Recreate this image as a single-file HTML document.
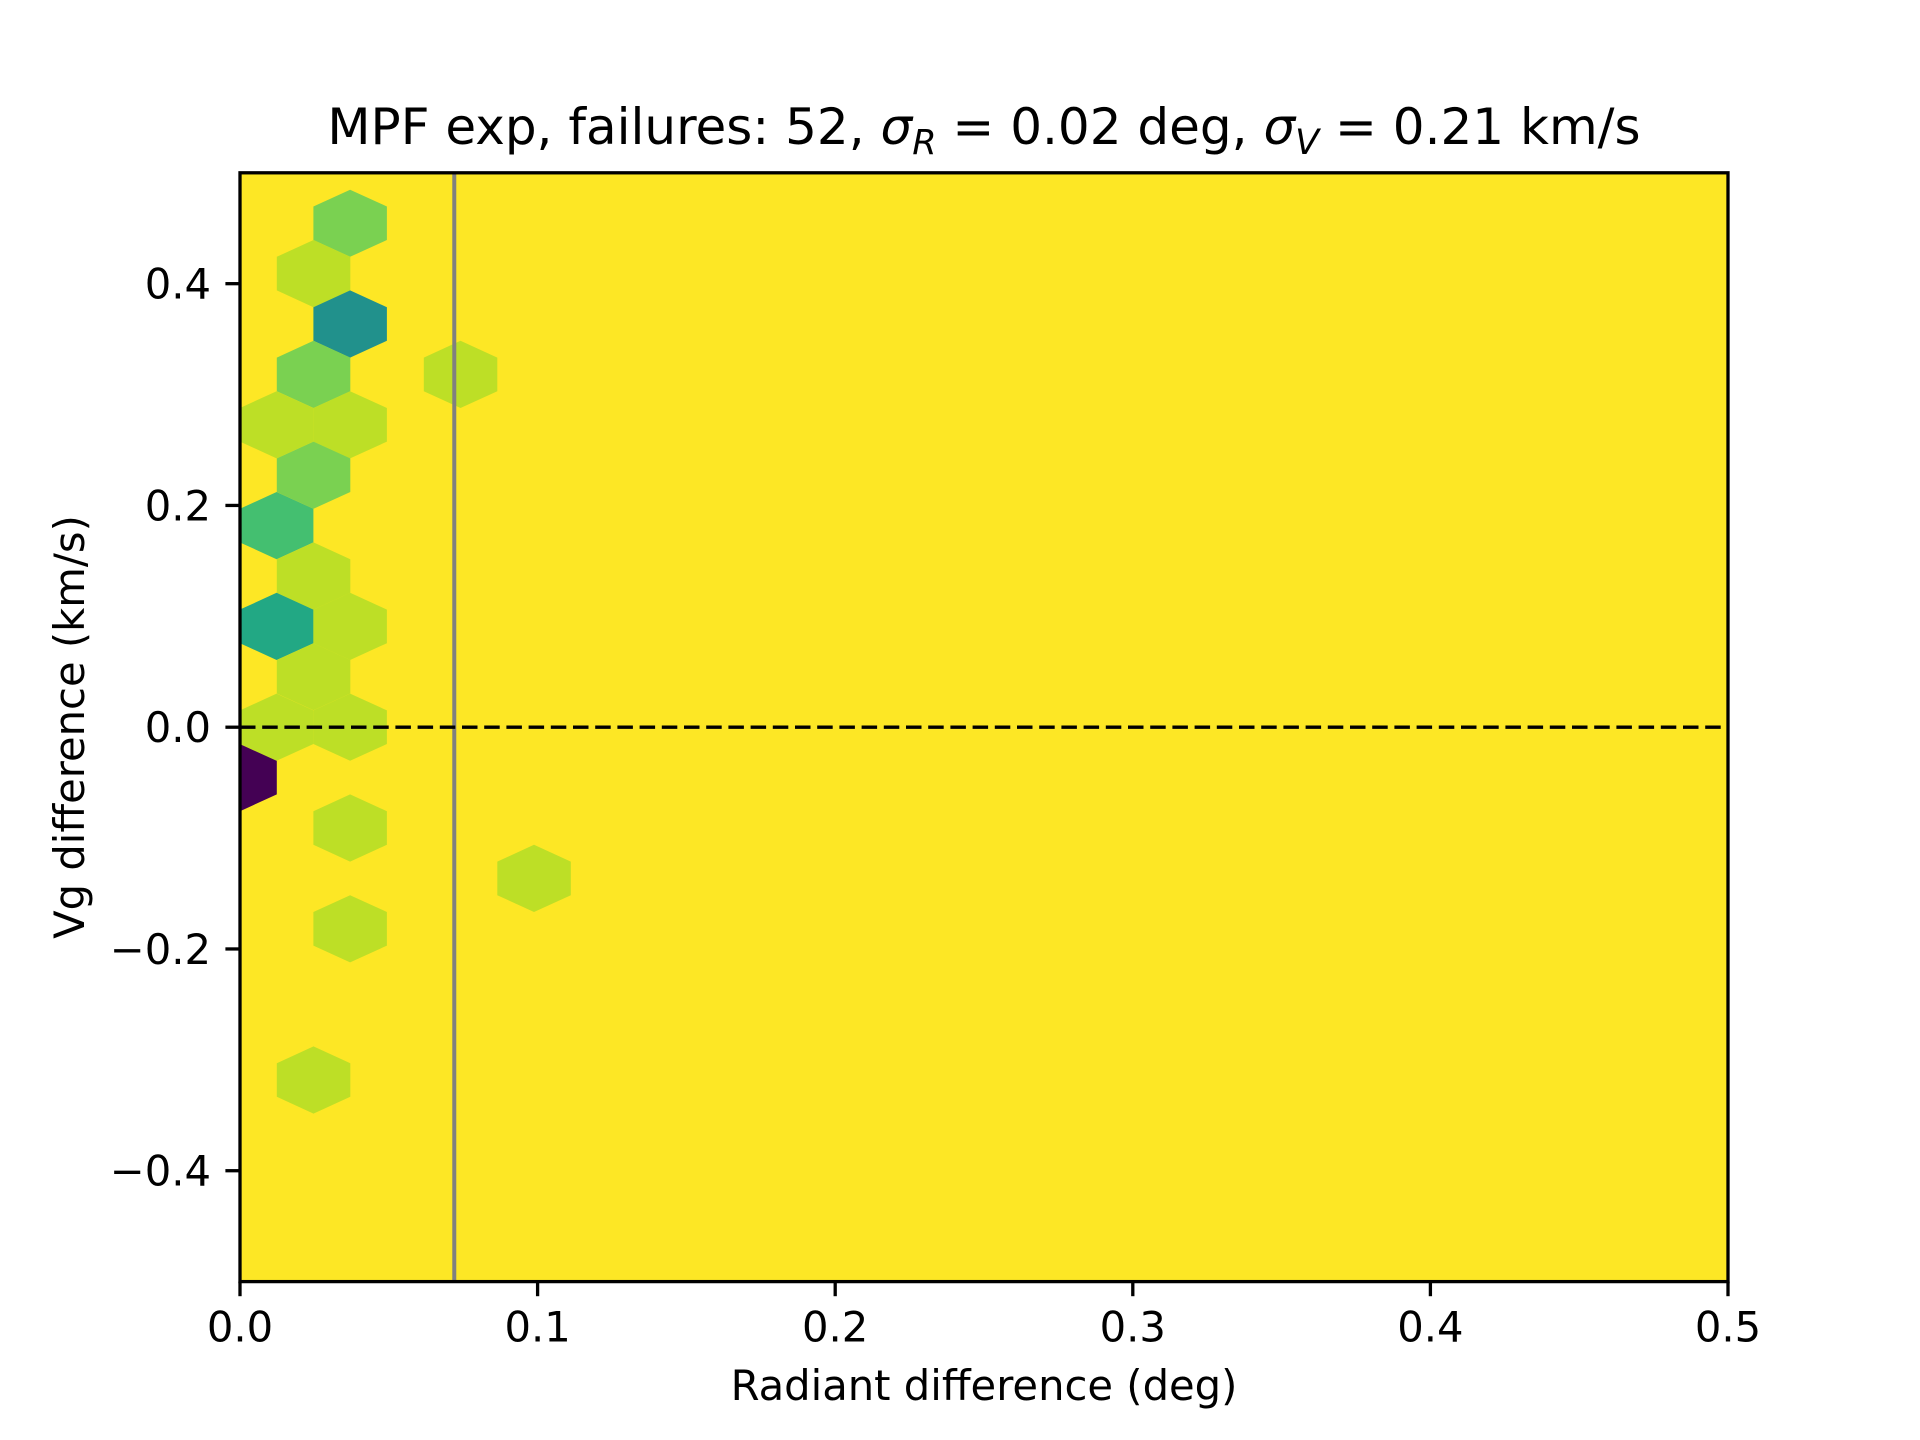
<!DOCTYPE html>
<html><head><meta charset="utf-8"><style>
html,body{margin:0;padding:0;background:#fff}
svg{display:block;font-family:"DejaVu Sans","Liberation Sans",sans-serif}
</style></head><body>
<svg id="chart" width="1920" height="1440" viewBox="0 0 1920 1440" xmlns="http://www.w3.org/2000/svg">
<defs><clipPath id="clip"><rect x="240" y="172.8" width="1488" height="1108.8"/></clipPath></defs>
<rect x="240" y="172.8" width="1488" height="1108.8" fill="#fde725"/>
<g id="hexes" clip-path="url(#clip)"></g>
<g id="lines" clip-path="url(#clip)"></g>
<rect x="240" y="172.8" width="1488" height="1108.8" fill="none" stroke="#000" stroke-width="3.3"/>
<g id="ticks"></g>
<text x="984" y="144" font-size="50" text-anchor="middle">MPF exp, failures: 52, <tspan font-style="italic">σ</tspan><tspan font-style="italic" font-size="35" dy="10">R</tspan><tspan dy="-10"> = 0.02 deg, </tspan><tspan font-style="italic">σ</tspan><tspan font-style="italic" font-size="35" dy="10">V</tspan><tspan dy="-10"> = 0.21 km/s</tspan></text>
<text x="984" y="1400" font-size="41.7" text-anchor="middle">Radiant difference (deg)</text>
<text x="0" y="0" font-size="41.7" text-anchor="middle" transform="translate(84,727) rotate(-90)">Vg difference (km/s)</text>
</svg>
<script>
const cellX = [0.0370,0.0247,0.0370,0.0247,0.0741,0.0123,0.0370,0.0247,0.0123,0.0247,0.0123,0.0370,0.0247,0.0123,0.0370,0.0000,0.0370,0.0988,0.0370,0.0247];
const cellY = [0.4545,0.4091,0.3636,0.3182,0.3182,0.2727,0.2727,0.2273,0.1818,0.1364,0.0909,0.0909,0.0455,0.0000,0.0000,-0.0455,-0.0909,-0.1364,-0.1818,-0.3182];
const cellVal = [0.8,0.9,0.5,0.8,0.9,0.9,0.9,0.8,0.7,0.9,0.6,0.9,0.9,0.9,0.9,0.0,0.9,0.9,0.9,0.9];
const xTicks = [0.0,0.1,0.2,0.3,0.4,0.5];
const xTickLabels = ["0.0","0.1","0.2","0.3","0.4","0.5"];
const yTicks = [-0.4,-0.2,0.0,0.2,0.4];
const yTickLabels = ["\u22120.4","\u22120.2","0.0","0.2","0.4"];
const vLineX = [0.072];
const hLineY = [0.0];
const hexSX = 0.0247, hexSY = 0.0909;

const X0=240,X1=1728,Y0=1281.6,Y1=172.8;
const xs=v=>X0+(v-0)/(0.5)*(X1-X0);
const ys=v=>Y0-(v+0.5)/1.0*(Y0-Y1);
const NS='http://www.w3.org/2000/svg';
const vir=[[0,[68,1,84]],[0.25,[59,82,139]],[0.5,[33,145,140]],[0.6,[34,168,132]],[0.7,[68,191,112]],[0.8,[122,209,81]],[0.9,[189,223,38]],[1,[253,231,37]]];
function cmap(t){for(let i=1;i<vir.length;i++){if(t<=vir[i][0]){const a=vir[i-1],b=vir[i],f=(t-a[0])/(b[0]-a[0]);return 'rgb('+a[1].map((c,k)=>Math.round(c+(b[1][k]-c)*f)).join(',')+')';}}return 'rgb(253,231,37)';}
const hg=document.getElementById('hexes');
const off=[[0.5,-1/6],[0.5,1/6],[0,1/3],[-0.5,1/6],[-0.5,-1/6],[0,-1/3]];
cellX.forEach((cx,i)=>{
  const pts=off.map(o=>xs(cx+o[0]*hexSX).toFixed(1)+','+ys(cellY[i]+o[1]*hexSY).toFixed(1)).join(' ');
  const p=document.createElementNS(NS,'polygon');
  p.setAttribute('points',pts);p.setAttribute('fill',cmap(cellVal[i]));
  
  
  hg.appendChild(p);
});
const lg=document.getElementById('lines');
vLineX.forEach(v=>{const l=document.createElementNS(NS,'line');
  l.setAttribute('x1',xs(v));l.setAttribute('x2',xs(v));l.setAttribute('y1',Y1);l.setAttribute('y2',Y0);
  l.setAttribute('stroke','#808080');l.setAttribute('stroke-width','4');
  
  
  lg.appendChild(l);});
hLineY.forEach(v=>{const l=document.createElementNS(NS,'line');
  l.setAttribute('x1',X0);l.setAttribute('x2',X1);l.setAttribute('y1',ys(v));l.setAttribute('y2',ys(v));
  l.setAttribute('stroke','#000');l.setAttribute('stroke-width','3.3');l.setAttribute('stroke-dasharray','15.5,6.7');
  
  
  lg.appendChild(l);});
const tg=document.getElementById('ticks');
xTicks.forEach((v,i)=>{const x=xs(v);
  const l=document.createElementNS(NS,'line');
  l.setAttribute('x1',x);l.setAttribute('x2',x);l.setAttribute('y1',Y0);l.setAttribute('y2',Y0+14.6);
  l.setAttribute('stroke','#000');l.setAttribute('stroke-width','3.3');
  
  
  tg.appendChild(l);
  const t=document.createElementNS(NS,'text');
  t.setAttribute('x',x);t.setAttribute('y',Y0+60);t.setAttribute('font-size','41.7');t.setAttribute('text-anchor','middle');
  t.textContent=xTickLabels[i];
  
  
  tg.appendChild(t);});
yTicks.forEach((v,i)=>{const y=ys(v);
  const l=document.createElementNS(NS,'line');
  l.setAttribute('x1',X0-14.6);l.setAttribute('x2',X0);l.setAttribute('y1',y);l.setAttribute('y2',y);
  l.setAttribute('stroke','#000');l.setAttribute('stroke-width','3.3');
  
  
  tg.appendChild(l);
  const t=document.createElementNS(NS,'text');
  t.setAttribute('x',X0-29);t.setAttribute('y',y+15);t.setAttribute('font-size','41.7');t.setAttribute('text-anchor','end');
  t.textContent=yTickLabels[i];
  
  
  tg.appendChild(t);});
</script>
</body></html>
